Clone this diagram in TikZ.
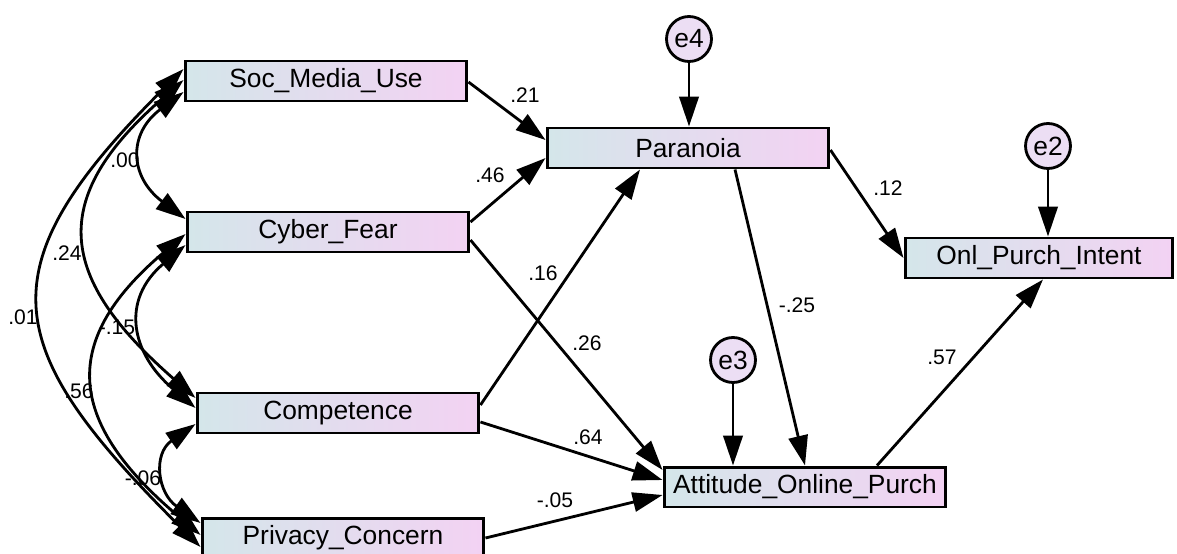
\documentclass[tikz,border=0pt]{standalone}
\usepackage{fontspec}
\setmainfont{Liberation Sans}
\usepackage{tikz}
\definecolor{boxleft}{RGB}{212,230,234}
\definecolor{boxright}{RGB}{243,210,243}
\definecolor{errfill}{RGB}{236,222,244}
\usetikzlibrary{arrows.meta}
\usetikzlibrary{shapes}
\usetikzlibrary{calc}

\begin{document}
\begin{tikzpicture}[x=0.02cm, y=-0.02cm]
        \tikzset{var/.style={rectangle, draw, line width=1.7pt, minimum width=5.64cm, minimum height=0.8cm,
                        left color=boxleft, right color=boxright, font=\fontsize{15}{18}\selectfont},
                err/.style={circle, draw, line width=1.6pt, fill=errfill, minimum size=0.9cm, inner sep=0pt,
                        font=\fontsize{15}{18}\selectfont},
                coef/.style={inner sep=0pt, font=\fontsize{12}{14}\selectfont},
                >={Triangle[length=17pt,width=11pt]},
                every edge/.style={draw=black, line width=1.6pt}}

        \useasboundingbox (0,0) rectangle (1177,554);

        \node[var] (1) at (326, 81) {Soc\_Media\_Use};
        \node[var] (2) at (328, 232) {Cyber\_Fear};
        \node[var] (3) at (338, 413) {Competence};
        \node[var] (4) at (343, 538) {Privacy\_Concern};
        \node[var] (5) at (688, 148) {Paranoia};
        \node[var] (6) at (805, 487) {Attitude\_Online\_Purch};
        \node[var, minimum width=5.36cm] (7) at (1039, 258) {Onl\_Purch\_Intent};
        \node[err] (8) at (689, 39) {e4};
        \node[err] (9) at (733, 360) {e3};
        \node[err] (10) at (1048, 146) {e2};

        % paths
        \path [->] ($(1.east)+(0,1)$) edge ($(5.west)+(0,-8)$);
        \path [->] ($(2.east)+(0,-10)$) edge ($(5.west)+(0,10)$);
        \path [->] ($(3.east)+(0,-8)$) edge ($(5.south)+(-48,0)$);
        \path [->] ($(2.east)+(0,8)$) edge ($(6.west)+(0,-17)$);
        \path [->] ($(3.east)+(0,9)$) edge ($(6.west)+(0,-7)$);
        \path [->] (4.east) edge ($(6.west)+(0,8)$);
        \path [->] ($(5.south)+(47,0)$) edge (6.north);
        \path [->] ($(5.east)+(0,2)$) edge (7.west);
        \path [->] ($(6.north)+(72,0)$) edge ($(7.south)+(4,0)$);
        \path [->] (8) edge (8 |- 5.north);
        \path [->] (9) edge (9 |- 6.north);
        \path [->] (10) edge (10 |- 7.north);

        % covariances
        \draw [<->, line width=1.6pt] ($(1.west)+(0,-12)$) .. controls +(-201,200) and +(-201,-200) .. ($(4.west)+(0,9)$);
        \draw [<->, line width=1.6pt] ($(1.west)+(0,-1)$) .. controls +(-137,120) and +(-137,-120) .. ($(3.west)+(0,-15)$);
        \draw [<->, line width=1.6pt] ($(1.west)+(0,11)$) .. controls +(-56,42) and +(-56,-42) .. ($(2.west)+(0,-13)$);
        \draw [<->, line width=1.6pt] ($(2.west)+(0,13)$) .. controls +(-65,55) and +(-65,-55) .. ($(3.west)+(0,-5)$);
        \draw [<->, line width=1.6pt] ($(2.west)+(0,2)$) .. controls +(-130,110) and +(-130,-110) .. ($(4.west)+(0,-3)$);
        \draw [<->, line width=1.6pt] ($(3.west)+(0,11)$) .. controls +(-43,30) and +(-43,-30) .. ($(4.west)+(0,-15)$);

        % estimates
        \node[coef] (c1) at (525, 95) {.21};
        \node[coef] (c2) at (490, 175) {.46};
        \node[coef] (c3) at (543, 273) {.16};
        \node[coef] (c4) at (587, 343) {.26};
        \node[coef] (c5) at (588, 437) {.64};
        \node[coef] (c6) at (555, 500) {-.05};
        \node[coef] (c7) at (797, 305) {-.25};
        \node[coef] (c8) at (888, 188) {.12};
        \node[coef] (c9) at (942, 357) {.57};
        \node[coef] (c10) at (125, 160) {.00};
        \node[coef] (c11) at (67, 253) {.24};
        \node[coef] (c12) at (23, 317) {.01};
        \node[coef] (c13) at (117, 327) {-.15};
        \node[coef] (c14) at (79, 391) {.56};
        \node[coef] (c15) at (143, 478) {-.06};

    \end{tikzpicture}
\end{document}
